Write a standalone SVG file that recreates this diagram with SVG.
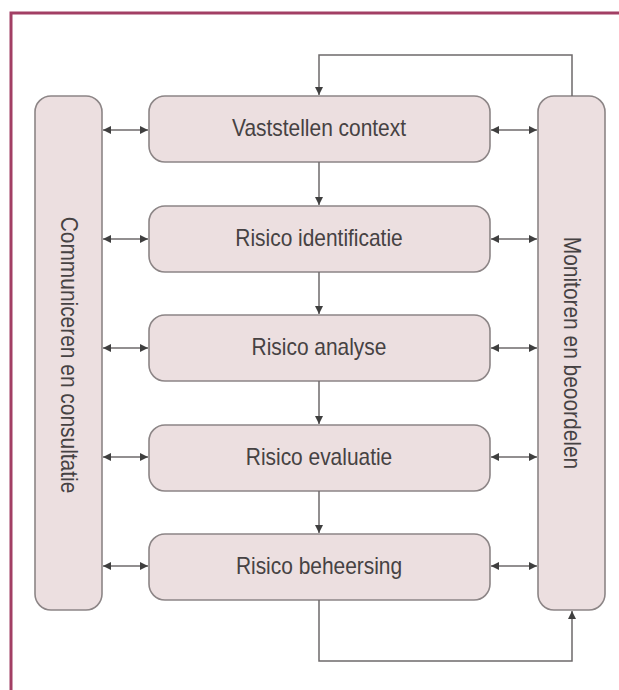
<svg xmlns="http://www.w3.org/2000/svg" width="619" height="690" viewBox="0 0 619 690">
  <defs>
    <marker id="arrow" viewBox="0 0 10 10" refX="10" refY="5" markerWidth="8" markerHeight="8" markerUnits="userSpaceOnUse" orient="auto-start-reverse">
      <path d="M0,0 L10,5 L0,10 z" fill="#3f3f3f"/>
    </marker>
  </defs>
  <style>
    .box { fill: #ecdfe0; stroke: #8c8586; stroke-width: 1.6; }
    .lbl { font-family: "Liberation Sans", Arial, sans-serif; font-size: 23px; fill: #464243; text-anchor: middle; dominant-baseline: central; }
    .con { fill: none; stroke: #6e6a6b; stroke-width: 1.5; }
  </style>
  <rect width="619" height="690" fill="#ffffff"/>
  <!-- frame -->
  <path d="M11,690 V13 H619" fill="none" stroke="#a23f64" stroke-width="3"/>

  <g id="communiceren">
    <rect class="box" x="35" y="96" width="67" height="514" rx="16"/>
    <text class="lbl" transform="translate(69,355) rotate(90) scale(0.91,1)">Communiceren en consultatie</text>
  </g>
  <g id="monitoren">
    <rect class="box" x="538" y="96" width="67" height="514" rx="16"/>
    <text class="lbl" transform="translate(572,353) rotate(90) scale(0.91,1)">Monitoren en beoordelen</text>
  </g>
  <g id="context">
    <rect class="box" x="149" y="96" width="341" height="66" rx="16"/>
    <text class="lbl" transform="translate(319,128) scale(0.91,1)">Vaststellen context</text>
  </g>
  <g id="identificatie">
    <rect class="box" x="149" y="206" width="341" height="66" rx="16"/>
    <text class="lbl" transform="translate(319,238) scale(0.91,1)">Risico identificatie</text>
  </g>
  <g id="analyse">
    <rect class="box" x="149" y="315" width="341" height="66" rx="16"/>
    <text class="lbl" transform="translate(319,347) scale(0.91,1)">Risico analyse</text>
  </g>
  <g id="evaluatie">
    <rect class="box" x="149" y="425" width="341" height="66" rx="16"/>
    <text class="lbl" transform="translate(319,457) scale(0.91,1)">Risico evaluatie</text>
  </g>
  <g id="beheersing">
    <rect class="box" x="149" y="534" width="341" height="66" rx="16"/>
    <text class="lbl" transform="translate(319,566) scale(0.91,1)">Risico beheersing</text>
  </g>

  <g id="connectors">
    <!-- two-way links to the side columns -->
    <path class="con" d="M103,130 H148" marker-start="url(#arrow)" marker-end="url(#arrow)"/>
    <path class="con" d="M103,239 H148" marker-start="url(#arrow)" marker-end="url(#arrow)"/>
    <path class="con" d="M103,348 H148" marker-start="url(#arrow)" marker-end="url(#arrow)"/>
    <path class="con" d="M103,457 H148" marker-start="url(#arrow)" marker-end="url(#arrow)"/>
    <path class="con" d="M103,566 H148" marker-start="url(#arrow)" marker-end="url(#arrow)"/>
    <path class="con" d="M491,130 H537" marker-start="url(#arrow)" marker-end="url(#arrow)"/>
    <path class="con" d="M491,239 H537" marker-start="url(#arrow)" marker-end="url(#arrow)"/>
    <path class="con" d="M491,348 H537" marker-start="url(#arrow)" marker-end="url(#arrow)"/>
    <path class="con" d="M491,457 H537" marker-start="url(#arrow)" marker-end="url(#arrow)"/>
    <path class="con" d="M491,566 H537" marker-start="url(#arrow)" marker-end="url(#arrow)"/>
    <!-- process flow -->
    <path class="con" d="M319,162 V205" marker-end="url(#arrow)"/>
    <path class="con" d="M319,272 V314" marker-end="url(#arrow)"/>
    <path class="con" d="M319,381 V424" marker-end="url(#arrow)"/>
    <path class="con" d="M319,491 V533" marker-end="url(#arrow)"/>
    <!-- feedback loops -->
    <path class="con" d="M572,96 V55 H319 V95" marker-end="url(#arrow)"/>
    <path class="con" d="M319,600 V661 H572 V611" marker-end="url(#arrow)"/>
  </g>
</svg>
